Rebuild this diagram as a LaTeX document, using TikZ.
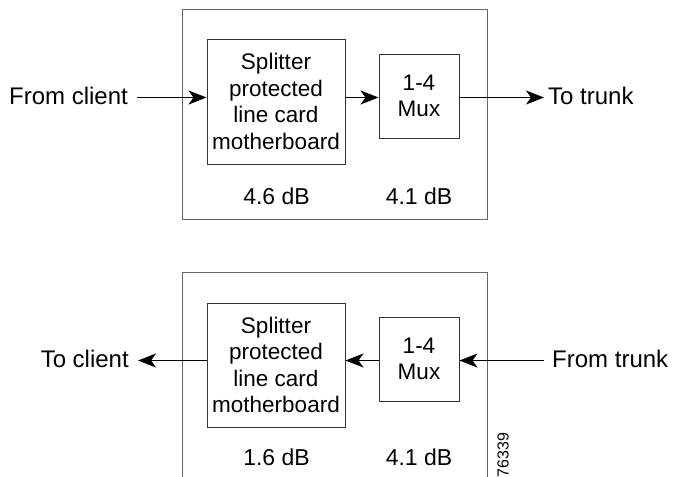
\documentclass[tikz,border=0pt]{standalone}
\usepackage{fontspec}
\setmainfont{Liberation Sans}
\usetikzlibrary{arrows.meta}
\begin{document}
\begin{tikzpicture}[x=1pt,y=-1pt,
  frame/.style={draw=black!60, line width=1pt},
  block/.style={draw=black!80, line width=1pt, align=center,
    font=\fontsize{22.5}{26.5}\selectfont, inner sep=0pt},
  side/.style={font=\fontsize{24}{28}\selectfont, inner sep=0pt},
  loss/.style={font=\fontsize{23}{27}\selectfont, inner sep=0pt, anchor=base},
  flow/.style={draw=black, line width=1pt,
    -{Stealth[length=18pt,width=14pt,inset=5pt]}},
]
\useasboundingbox (0,0) rectangle (673,477);

% ---- transmit direction ----
\draw[frame] (182,9) rectangle (487,219);
\node[block, minimum width=138pt, minimum height=125pt] (spl1) at (276,101.5)
  {Splitter\\protected\\line card\\motherboard};
\node[block, minimum width=80pt, minimum height=84pt] (mux1) at (419,96)
  {1-4\\Mux};
\node[loss] (l1a) at (276.5,204) {4.6 dB};
\node[loss] (l1b) at (419,204) {4.1 dB};

\node[side, anchor=base east] (fc) at (128,104) {From client};
\node[side, anchor=base west] (tt) at (548,104.5) {To trunk};
\coordinate (fcs) at (137,97.5);
\coordinate (tte) at (544,97.5);
\draw[flow] (fcs) -- (spl1.west |- fcs);
\draw[flow] (spl1.east |- fcs) -- (mux1.west |- fcs);
\draw[flow] (mux1.east |- tte) -- (tte);

% ---- receive direction ----
\draw[frame] (182,477) -- (182,272) -- (487,272) -- (487,477);
\node[block, minimum width=138pt, minimum height=124pt] (spl2) at (276,365)
  {Splitter\\protected\\line card\\motherboard};
\node[block, minimum width=80pt, minimum height=84pt] (mux2) at (419,359)
  {1-4\\Mux};
\node[loss] (l2a) at (276.5,465) {1.6 dB};
\node[loss] (l2b) at (419,465) {4.1 dB};

\node[side, anchor=base east] (tc) at (129,367) {To client};
\node[side, anchor=base west] (ft) at (552,367.5) {From trunk};
\coordinate (tce) at (138,360.5);
\coordinate (fts) at (544,360.5);
\draw[flow] (fts) -- (mux2.east |- fts);
\draw[flow] (mux2.west |- fts) -- (spl2.east |- fts);
\draw[flow] (spl2.west |- tce) -- (tce);

\node[rotate=90, font=\fontsize{16}{18}\selectfont, inner sep=0pt] (fig) at (503,455) {76339};
\end{tikzpicture}
\end{document}
